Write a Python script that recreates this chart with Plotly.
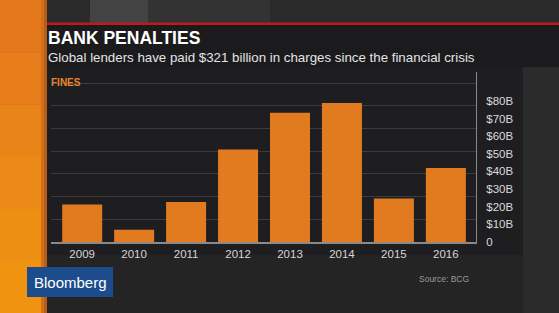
import plotly.graph_objects as go

years = ["2009", "2010", "2011", "2012", "2013", "2014", "2015", "2016"]
fines_billion = [21.3, 7.0, 22.7, 52.5, 73.3, 78.8, 24.7, 42.0]
tick_values = [0, 10, 20, 30, 40, 50, 60, 70, 80]
tick_labels = ["0", "$10B", "$20B", "$30B", "$40B", "$50B", "$60B", "$70B", "$80B"]

W, H = 559, 313
L, R, T, B = 51, 83, 72, 71
Y_MAX = 96.4
PW, PH = W - L - R, H - T - B

fig = go.Figure()
fig.add_trace(go.Bar(
    x=list(range(len(years))), y=fines_billion,
    width=0.77,
    marker=dict(color="#e27a1f", line=dict(width=0)),
    hoverinfo="skip", showlegend=False,
))
# invisible helper trace so the decorative grid axis is drawn
fig.add_trace(go.Scatter(x=[], y=[], yaxis="y2", showlegend=False, hoverinfo="skip"))

def px_x(p):
    return (p - L) / PW

def px_y(p):
    return (H - B - p) / PH

shapes = []
def rect(x0, y0, x1, y1, color, layer="below"):
    shapes.append(dict(type="rect", xref="paper", yref="paper",
                       x0=px_x(x0), x1=px_x(x1), y0=px_y(y1), y1=px_y(y0),
                       fillcolor=color, line=dict(width=0), layer=layer))

# background regions
rect(0, 0, W, 24, "#2a2a2b")
rect(90, 0, 148, 24, "#434344")
rect(148, 0, 270, 24, "#333334")
rect(0, 255, W, H, "#242425")
rect(523, 67, W, H, "#2b2b2b")
rect(47, 67, 523, 255, "#1e1e21")
rect(45, 25, W, 67, "#1b1b1d")
rect(45, 22.5, W, 25, "#c4161c")
# orange side strip (banded to mimic its gradient)
strip_bands = ["#e5781d", "#e77e1b", "#e98419", "#eb8a16", "#ed8f13", "#ef9311"]
band_h = H / len(strip_bands)
for i, c in enumerate(strip_bands):
    rect(0, i * band_h, 47, (i + 1) * band_h + 0.5, c)
rect(41, 0, 44, H, "#d2701a")
rect(44, 0, 47, H, "#b65e17")
# Bloomberg badge
rect(27, 267, 113, 297, "#1d4c8c", layer="above")

annotations = [
    dict(text="<b>BANK PENALTIES</b>", x=px_x(46), y=px_y(38), xref="paper", yref="paper",
         xanchor="left", yanchor="middle", showarrow=False,
         font=dict(family="Liberation Sans", size=17.5, color="#ffffff")),
    dict(text="Global lenders have paid $321 billion in charges since the financial crisis",
         x=px_x(46), y=px_y(57), xref="paper", yref="paper",
         xanchor="left", yanchor="middle", showarrow=False,
         font=dict(family="Liberation Sans", size=13.3, color="#e4e4e4")),
    dict(text="<b>FINES</b>", x=px_x(49), y=px_y(82), xref="paper", yref="paper",
         xanchor="left", yanchor="middle", showarrow=False,
         font=dict(family="Liberation Sans", size=10, color="#e8842a")),
    dict(text="Bloomberg", x=px_x(70), y=px_y(282), xref="paper", yref="paper",
         xanchor="center", yanchor="middle", showarrow=False,
         font=dict(family="Liberation Sans", size=15, color="#ffffff")),
    dict(text="Source: BCG", x=px_x(471), y=px_y(279), xref="paper", yref="paper",
         xanchor="right", yanchor="middle", showarrow=False,
         font=dict(family="Liberation Sans", size=8.5, color="#9a9a9a")),
]

fig.update_layout(
    width=W, height=H,
    margin=dict(l=L, r=R, t=T, b=B, pad=0),
    paper_bgcolor="#232324",
    plot_bgcolor="rgba(0,0,0,0)",
    shapes=shapes,
    annotations=annotations,
    bargap=0.2,
    xaxis=dict(
        range=[-0.6, 7.58],
        tickmode="array", tickvals=list(range(len(years))), ticktext=years,
        showgrid=False, zeroline=False,
        showline=True, linecolor="#8a8a8c", linewidth=1.5,
        ticks="", tickfont=dict(family="Liberation Sans", size=11.5, color="#d6d6d6"),
        fixedrange=True,
    ),
    yaxis=dict(
        range=[0, Y_MAX], side="right",
        tickmode="array", tickvals=tick_values, ticktext=tick_labels,
        showgrid=False, zeroline=False,
        showline=True, linecolor="#8a8a8c", linewidth=1,
        ticks="", ticklabelstandoff=7,
        tickfont=dict(family="Liberation Sans", size=11.5, color="#dadada"),
        fixedrange=True,
    ),
    yaxis2=dict(
        range=[0, Y_MAX], overlaying="y", side="left",
        tick0=0, dtick=12.88, showticklabels=False,
        showgrid=True, gridcolor="#3b3b3f", gridwidth=1.2,
        zeroline=False, showline=False, ticks="", fixedrange=True,
    ),
    showlegend=False,
)

fig.write_html("out.html")
